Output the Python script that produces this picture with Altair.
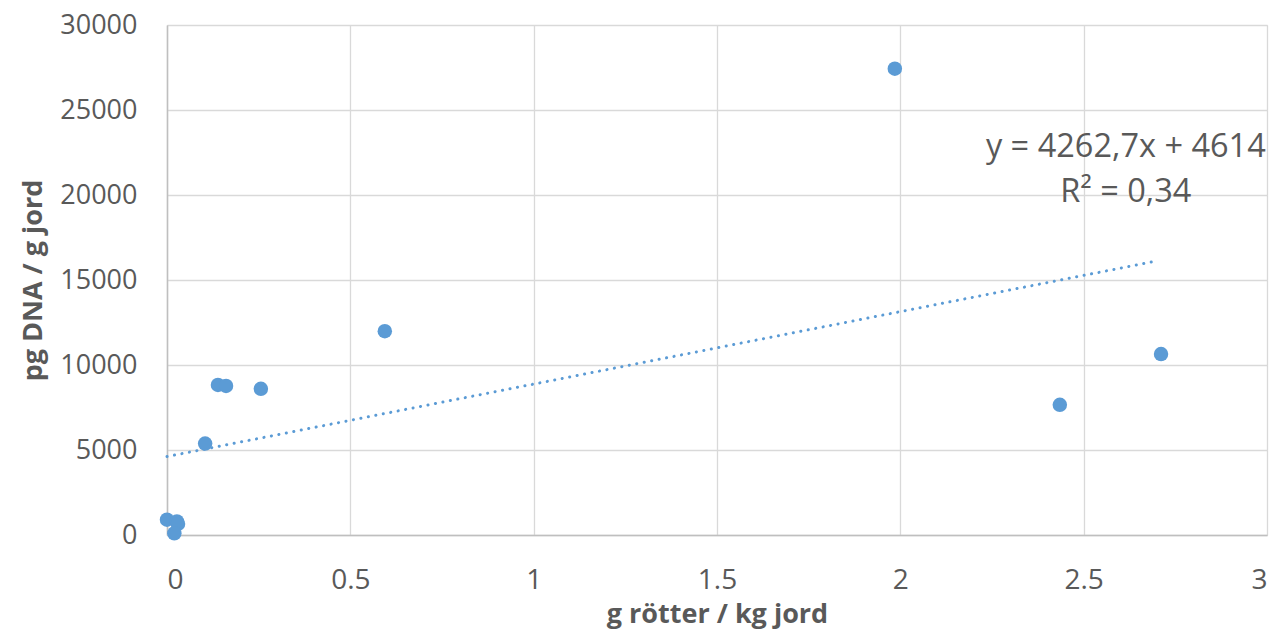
import altair as alt
import pandas as pd

# scatter data: g rötter / kg jord vs pg DNA / g jord
roots = [0.0, 0.027, 0.030, 0.020, 0.104, 0.139, 0.161, 0.256, 0.594, 1.985, 2.435, 2.711]
dna = [900, 800, 650, 100, 5380, 8830, 8770, 8600, 11990, 27430, 7660, 10640]

# linear trendline (Excel): y = 4262.7x + 4614
slope = 4262.7
intercept = 4614
trend_x = [0.0, 2.70]

eq_text = ["y = 4262,7x + 4614", "R² = 0,34"]
eq_x = [2.615, 2.615]
eq_y = [22800, 20150]

FONT = "Open Sans"
GREY = "#595959"
BLUE = "#5b9bd5"

df = pd.DataFrame({"x": roots, "y": dna})
tdf = pd.DataFrame({"x": trend_x})
edf = pd.DataFrame({"x": eq_x, "y": eq_y, "t": eq_text})

xscale = alt.Scale(domain=[0, 3], nice=False, zero=True)
yscale = alt.Scale(domain=[0, 30000], nice=False)

points = alt.Chart(df).mark_circle(size=210, opacity=1, color=BLUE).encode(
    x=alt.X("x:Q", scale=xscale,
            axis=alt.Axis(title="g rötter / kg jord", values=[0, 0.5, 1, 1.5, 2, 2.5, 3],
                          labelExpr="datum.value == 0 ? '0' : format(datum.value, '')",
                          ticks=False, gridColor="#d9d9d9", gridWidth=1.3,
                          domainColor="#bfbfbf", domainWidth=1.5,
                          labelFont=FONT, labelFontSize=28, labelColor=GREY, labelPadding=31,
                          titleFont=FONT, titleFontSize=27, titleFontWeight="bold",
                          titleColor=GREY, titlePadding=7)),
    y=alt.Y("y:Q", scale=yscale,
            axis=alt.Axis(title="pg DNA / g jord", values=[0, 5000, 10000, 15000, 20000, 25000, 30000],
                          format="d", ticks=False, gridColor="#d9d9d9", gridWidth=1.3,
                          domainColor="#bfbfbf", domainWidth=1.5,
                          labelFont=FONT, labelFontSize=27, labelColor=GREY, labelPadding=30,
                          titleFont=FONT, titleFontSize=27, titleFontWeight="bold",
                          titleColor=GREY, titlePadding=12)),
)

trend = alt.Chart(tdf).transform_calculate(
    y=f"{slope} * datum.x + {intercept}"
).mark_line(color=BLUE, strokeWidth=3, strokeDash=[0.1, 7.5], strokeCap="round").encode(
    x=alt.X("x:Q", scale=xscale),
    y=alt.Y("y:Q", scale=yscale),
)

eq = alt.Chart(edf).mark_text(font=FONT, fontSize=32.5, color=GREY, align="center").encode(
    x=alt.X("x:Q", scale=xscale),
    y=alt.Y("y:Q", scale=yscale),
    text="t:N",
)

chart = alt.layer(trend, points, eq).properties(
    width=1100, height=510,
    autosize=alt.AutoSizeParams(type="none"),
    padding={"left": 159, "top": 17, "right": 7, "bottom": 98},
).configure_view(stroke=None).configure(background="white")

chart.save("out.html", embed_options={"renderer": "svg", "actions": False})
